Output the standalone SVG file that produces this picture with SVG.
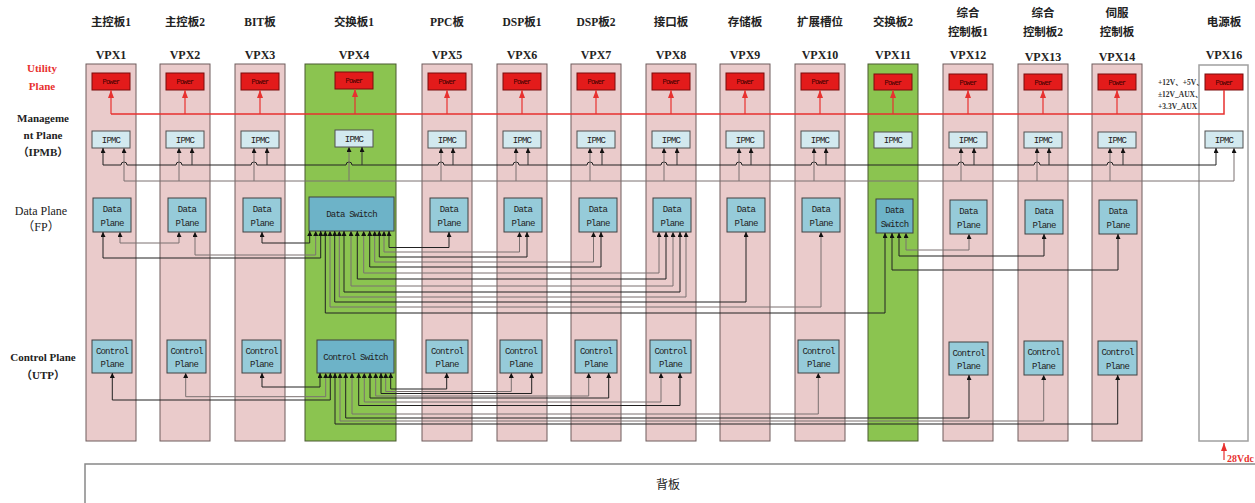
<svg xmlns="http://www.w3.org/2000/svg" width="1255" height="503" viewBox="0 0 1255 503">
<defs>
<marker id="ak" viewBox="0 0 5 5" refX="5" refY="2.5" markerWidth="5" markerHeight="5" markerUnits="userSpaceOnUse" orient="auto-start-reverse"><path d="M0,0L5,2.5L0,5z" fill="#111"/></marker>
<marker id="ar" viewBox="0 0 8 6" refX="8" refY="3" markerWidth="8" markerHeight="6" markerUnits="userSpaceOnUse" orient="auto-start-reverse"><path d="M0,0L8,3L0,6z" fill="#e8312f"/></marker>
</defs>
<style>
.slot{fill:#eacbcb;stroke:#6e5c5c;stroke-width:1}
.sw{fill:#8bc450;stroke:#4a5a30;stroke-width:1}
.ps{fill:#fff;stroke:#a0a0a0;stroke-width:1.5}
.pwr{fill:#e31b1b;stroke:#7a0c0c;stroke-width:1}
.ipmc{fill:#d2e9ef;stroke:#505050;stroke-width:1}
.dp{fill:#96cbd9;stroke:#404040;stroke-width:1}
.dsw{fill:#6db3c8;stroke:#404040;stroke-width:1}
.hd{font-family:"Liberation Serif","Noto Sans CJK SC",serif;font-weight:bold;font-size:11.5px;text-anchor:middle;fill:#222}
.vpx{font-family:"Liberation Serif",serif;font-weight:bold;font-size:12px;text-anchor:middle;fill:#222}
.bx{font-family:"Liberation Mono",monospace;font-size:9px;letter-spacing:-0.8px;text-anchor:middle;fill:#222}
.pw{font-family:"Liberation Mono",monospace;font-size:7px;letter-spacing:-0.8px;text-anchor:middle;fill:#3a0000}
.lb{font-family:"Liberation Serif","Noto Sans CJK SC",serif;font-weight:bold;font-size:11px;text-anchor:middle;fill:#222}
.lbn{font-family:"Liberation Serif","Noto Sans CJK SC",serif;font-size:12px;text-anchor:middle;fill:#222}
.red{fill:#e8312f}
.c1{fill:none;stroke:#222;stroke-width:1;marker-start:url(#ak);marker-end:url(#ak)}
.c2{fill:none;stroke:#7a7070;stroke-width:1;marker-start:url(#ak);marker-end:url(#ak)}
.up{fill:none;stroke:#333;stroke-width:1;marker-end:url(#ak)}
.upg{fill:none;stroke:#7a7070;stroke-width:1;marker-end:url(#ak)}
.rl{fill:none;stroke:#e8312f;stroke-width:1.5}
.ra{fill:none;stroke:#e8312f;stroke-width:1.2;marker-end:url(#ar)}
</style>

<g id="labels">
<text class="lb red" x="42" y="72">Utility</text>
<text class="lb red" x="42" y="90">Plane</text>
<text class="lb" x="43" y="122">Manageme</text>
<text class="lb" x="43" y="139">nt Plane</text>
<text class="lb" x="43" y="156">（IPMB）</text>
<text class="lbn" x="41" y="215">Data Plane</text>
<text class="lbn" x="41" y="231">（FP）</text>
<text class="lb" x="43" y="361">Control Plane</text>
<text class="lb" x="43" y="379">（UTP）</text>
</g>

<g id="backplane">
<rect x="85" y="464" width="1200" height="60" fill="#fff" stroke="#888" stroke-width="1.5"/>
<text class="lbn" x="668" y="489">背板</text>
</g>

<g id="vpx1">
<text class="hd" x="111" y="26">主控板1</text><text class="vpx" x="111" y="59">VPX1</text>
<rect class="slot" x="86" y="64" width="50" height="377"/>
<rect class="pwr" x="92" y="73" width="38" height="17"/><text class="pw" x="111" y="84">Power</text>
<rect class="ipmc" x="92" y="131" width="38" height="17"/><text class="bx" x="111" y="143">IPMC</text>
<rect class="dp" x="93" y="198" width="38" height="34"/><text class="bx" x="112" y="212">Data</text><text class="bx" x="112" y="226">Plane</text>
<rect class="dp" x="92" y="340" width="40" height="33"/><text class="bx" x="112" y="354">Control</text><text class="bx" x="112" y="367">Plane</text>
</g>
<g id="vpx2">
<text class="hd" x="185" y="26">主控板2</text><text class="vpx" x="185" y="59">VPX2</text>
<rect class="slot" x="160" y="64" width="50" height="377"/>
<rect class="pwr" x="166" y="73" width="38" height="17"/><text class="pw" x="185" y="84">Power</text>
<rect class="ipmc" x="166" y="131" width="38" height="17"/><text class="bx" x="185" y="143">IPMC</text>
<rect class="dp" x="168" y="198" width="38" height="34"/><text class="bx" x="187" y="212">Data</text><text class="bx" x="187" y="226">Plane</text>
<rect class="dp" x="167" y="340" width="39" height="33"/><text class="bx" x="186.5" y="354">Control</text><text class="bx" x="186.5" y="367">Plane</text>
</g>
<g id="vpx3">
<text class="hd" x="260" y="26">BIT板</text><text class="vpx" x="260" y="59">VPX3</text>
<rect class="slot" x="235" y="64" width="50" height="377"/>
<rect class="pwr" x="241" y="73" width="38" height="17"/><text class="pw" x="260" y="84">Power</text>
<rect class="ipmc" x="241" y="131" width="38" height="17"/><text class="bx" x="260" y="143">IPMC</text>
<rect class="dp" x="243" y="198" width="38" height="34"/><text class="bx" x="262" y="212">Data</text><text class="bx" x="262" y="226">Plane</text>
<rect class="dp" x="242" y="340" width="39" height="33"/><text class="bx" x="261.5" y="354">Control</text><text class="bx" x="261.5" y="367">Plane</text>
</g>
<g id="vpx4">
<text class="hd" x="354" y="26">交换板1</text><text class="vpx" x="354" y="59">VPX4</text>
<rect class="sw" x="305" y="64" width="91" height="377"/>
<rect class="pwr" x="335" y="72" width="38" height="17"/><text class="pw" x="354" y="83">Power</text>
<rect class="ipmc" x="335" y="130" width="38" height="17"/><text class="bx" x="354" y="142">IPMC</text>
<rect class="dsw" x="309" y="197" width="85" height="34"/><text class="bx" x="351.5" y="217">Data Switch</text>
<rect class="dsw" x="317" y="340" width="77" height="33"/><text class="bx" x="355.5" y="360">Control Switch</text>
</g>
<g id="vpx5">
<text class="hd" x="447" y="26">PPC板</text><text class="vpx" x="447" y="59">VPX5</text>
<rect class="slot" x="422" y="64" width="50" height="377"/>
<rect class="pwr" x="428" y="73" width="38" height="17"/><text class="pw" x="447" y="84">Power</text>
<rect class="ipmc" x="428" y="131" width="38" height="17"/><text class="bx" x="447" y="143">IPMC</text>
<rect class="dp" x="430" y="198" width="38" height="34"/><text class="bx" x="449" y="212">Data</text><text class="bx" x="449" y="226">Plane</text>
<rect class="dp" x="426" y="340" width="42" height="33"/><text class="bx" x="447" y="354">Control</text><text class="bx" x="447" y="367">Plane</text>
</g>
<g id="vpx6">
<text class="hd" x="522" y="26">DSP板1</text><text class="vpx" x="522" y="59">VPX6</text>
<rect class="slot" x="497" y="64" width="50" height="377"/>
<rect class="pwr" x="503" y="73" width="38" height="17"/><text class="pw" x="522" y="84">Power</text>
<rect class="ipmc" x="503" y="131" width="38" height="17"/><text class="bx" x="522" y="143">IPMC</text>
<rect class="dp" x="504" y="198" width="38" height="34"/><text class="bx" x="523" y="212">Data</text><text class="bx" x="523" y="226">Plane</text>
<rect class="dp" x="500" y="340" width="42" height="33"/><text class="bx" x="521" y="354">Control</text><text class="bx" x="521" y="367">Plane</text>
</g>
<g id="vpx7">
<text class="hd" x="596" y="26">DSP板2</text><text class="vpx" x="596" y="59">VPX7</text>
<rect class="slot" x="571" y="64" width="50" height="377"/>
<rect class="pwr" x="577" y="73" width="38" height="17"/><text class="pw" x="596" y="84">Power</text>
<rect class="ipmc" x="577" y="131" width="38" height="17"/><text class="bx" x="596" y="143">IPMC</text>
<rect class="dp" x="579" y="198" width="38" height="34"/><text class="bx" x="598" y="212">Data</text><text class="bx" x="598" y="226">Plane</text>
<rect class="dp" x="575" y="340" width="42" height="33"/><text class="bx" x="596" y="354">Control</text><text class="bx" x="596" y="367">Plane</text>
</g>
<g id="vpx8">
<text class="hd" x="671" y="26">接口板</text><text class="vpx" x="671" y="59">VPX8</text>
<rect class="slot" x="646" y="64" width="50" height="377"/>
<rect class="pwr" x="652" y="73" width="38" height="17"/><text class="pw" x="671" y="84">Power</text>
<rect class="ipmc" x="652" y="131" width="38" height="17"/><text class="bx" x="671" y="143">IPMC</text>
<rect class="dp" x="653" y="198" width="38" height="34"/><text class="bx" x="672" y="212">Data</text><text class="bx" x="672" y="226">Plane</text>
<rect class="dp" x="650" y="340" width="41" height="33"/><text class="bx" x="670.5" y="354">Control</text><text class="bx" x="670.5" y="367">Plane</text>
</g>
<g id="vpx9">
<text class="hd" x="745" y="26">存储板</text><text class="vpx" x="745" y="59">VPX9</text>
<rect class="slot" x="720" y="64" width="50" height="377"/>
<rect class="pwr" x="726" y="73" width="38" height="17"/><text class="pw" x="745" y="84">Power</text>
<rect class="ipmc" x="726" y="131" width="38" height="17"/><text class="bx" x="745" y="143">IPMC</text>
<rect class="dp" x="727" y="198" width="38" height="34"/><text class="bx" x="746" y="212">Data</text><text class="bx" x="746" y="226">Plane</text>
</g>
<g id="vpx10">
<text class="hd" x="820" y="26">扩展槽位</text><text class="vpx" x="820" y="59">VPX10</text>
<rect class="slot" x="795" y="64" width="50" height="377"/>
<rect class="pwr" x="801" y="73" width="38" height="17"/><text class="pw" x="820" y="84">Power</text>
<rect class="ipmc" x="801" y="131" width="38" height="17"/><text class="bx" x="820" y="143">IPMC</text>
<rect class="dp" x="802" y="198" width="38" height="34"/><text class="bx" x="821" y="212">Data</text><text class="bx" x="821" y="226">Plane</text>
<rect class="dp" x="798" y="340" width="41" height="33"/><text class="bx" x="818.5" y="354">Control</text><text class="bx" x="818.5" y="367">Plane</text>
</g>
<g id="vpx11">
<text class="hd" x="893" y="26">交换板2</text><text class="vpx" x="893" y="59">VPX11</text>
<rect class="sw" x="868" y="64" width="50" height="377"/>
<rect class="pwr" x="874" y="74" width="38" height="16"/><text class="pw" x="893" y="85">Power</text>
<rect class="ipmc" x="874" y="132" width="38" height="16"/><text class="bx" x="893" y="143">IPMC</text>
<rect class="dsw" x="876" y="199" width="37" height="34"/><text class="bx" x="894.5" y="213">Data</text><text class="bx" x="894.5" y="227">Switch</text>
</g>
<g id="vpx12">
<text class="hd" x="968" y="17">综合</text><text class="hd" x="968" y="36">控制板1</text><text class="vpx" x="968" y="59">VPX12</text>
<rect class="slot" x="943" y="64" width="50" height="377"/>
<rect class="pwr" x="949" y="74" width="38" height="16"/><text class="pw" x="968" y="85">Power</text>
<rect class="ipmc" x="949" y="132" width="38" height="16"/><text class="bx" x="968" y="143">IPMC</text>
<rect class="dp" x="950" y="200" width="37" height="34"/><text class="bx" x="968.5" y="214">Data</text><text class="bx" x="968.5" y="228">Plane</text>
<rect class="dp" x="949" y="342" width="39" height="33"/><text class="bx" x="968.5" y="356">Control</text><text class="bx" x="968.5" y="369">Plane</text>
</g>
<g id="vpx13">
<text class="hd" x="1043" y="17">综合</text><text class="hd" x="1043" y="36">控制板2</text><text class="vpx" x="1043" y="61">VPX13</text>
<rect class="slot" x="1018" y="64" width="50" height="377"/>
<rect class="pwr" x="1024" y="74" width="38" height="16"/><text class="pw" x="1043" y="85">Power</text>
<rect class="ipmc" x="1024" y="132" width="38" height="16"/><text class="bx" x="1043" y="143">IPMC</text>
<rect class="dp" x="1025" y="200" width="38" height="34"/><text class="bx" x="1044" y="214">Data</text><text class="bx" x="1044" y="228">Plane</text>
<rect class="dp" x="1024" y="341" width="39" height="34"/><text class="bx" x="1043.5" y="355">Control</text><text class="bx" x="1043.5" y="369">Plane</text>
</g>
<g id="vpx14">
<text class="hd" x="1117" y="17">伺服</text><text class="hd" x="1117" y="36">控制板</text><text class="vpx" x="1117" y="61">VPX14</text>
<rect class="slot" x="1092" y="64" width="50" height="377"/>
<rect class="pwr" x="1098" y="74" width="38" height="16"/><text class="pw" x="1117" y="85">Power</text>
<rect class="ipmc" x="1098" y="132" width="38" height="16"/><text class="bx" x="1117" y="143">IPMC</text>
<rect class="dp" x="1099" y="200" width="38" height="34"/><text class="bx" x="1118" y="214">Data</text><text class="bx" x="1118" y="228">Plane</text>
<rect class="dp" x="1098" y="341" width="39" height="34"/><text class="bx" x="1117.5" y="355">Control</text><text class="bx" x="1117.5" y="369">Plane</text>
</g>
<g id="vpx16">
<text class="hd" x="1224" y="26">电源板</text><text class="vpx" x="1224" y="59">VPX16</text>
<rect class="ps" x="1199" y="65" width="49" height="376"/>
<rect class="pwr" x="1205" y="74" width="38" height="16"/><text class="pw" x="1224" y="85">Power</text>
<rect class="ipmc" x="1205" y="131" width="38" height="17"/><text class="bx" x="1224" y="143">IPMC</text>
<text font-family="Liberation Serif,Noto Sans CJK SC,serif" font-weight="bold" font-size="7.5" fill="#333" x="1158" y="85">+12V、+5V、</text>
<text font-family="Liberation Serif,Noto Sans CJK SC,serif" font-weight="bold" font-size="7.5" fill="#333" x="1158" y="97">±12V_AUX、</text>
<text font-family="Liberation Serif,Noto Sans CJK SC,serif" font-weight="bold" font-size="7.5" fill="#333" x="1158" y="109">+3.3V_AUX</text>
<text font-family="Liberation Serif,serif" font-weight="bold" font-size="11" fill="#e8312f" x="1227" y="462" textLength="27" lengthAdjust="spacingAndGlyphs">28Vdc</text>
</g>

<g id="connectors">
<!-- utility plane -->
<path class="rl" d="M111,114 H1224 V90"/>
<path class="ra" d="M111,114 V90"/><path class="ra" d="M185,114 V90"/><path class="ra" d="M260,114 V90"/>
<path class="ra" d="M355,114 V89"/><path class="ra" d="M447,114 V90"/><path class="ra" d="M522,114 V90"/>
<path class="ra" d="M596,114 V90"/><path class="ra" d="M671,114 V90"/><path class="ra" d="M745,114 V90"/>
<path class="ra" d="M820,114 V90"/><path class="ra" d="M893,114 V90"/><path class="ra" d="M968,114 V90"/>
<path class="ra" d="M1043,114 V90"/><path class="ra" d="M1117,114 V90"/>
<path class="ra" d="M1224,460 V443"/>
<!-- IPMB -->
<path class="c1" d="M103,148 V165 H121 a3,3 0 0 1 6,0 H176 a3,3 0 0 1 6,0 H251 a3,3 0 0 1 6,0 H346 a3,3 0 0 1 6,0 H438 a3,3 0 0 1 6,0 H513 a3,3 0 0 1 6,0 H587 a3,3 0 0 1 6,0 H661 a3,3 0 0 1 6,0 H736 a3,3 0 0 1 6,0 H811 a3,3 0 0 1 6,0 H958 a3,3 0 0 1 6,0 H1034 a3,3 0 0 1 6,0 H1107 a3,3 0 0 1 6,0 H1216 V148"/>
<path class="c2" d="M124,148 V181 H1234 V148"/>
<path class="upg" d="M179,181 V148"/><path class="up" d="M192,165 V148"/>
<path class="upg" d="M254,181 V148"/><path class="up" d="M267,165 V148"/>
<path class="upg" d="M349,181 V147"/><path class="up" d="M362,165 V147"/>
<path class="upg" d="M441,181 V148"/><path class="up" d="M453,165 V148"/>
<path class="upg" d="M516,181 V148"/><path class="up" d="M528,165 V148"/>
<path class="upg" d="M590,181 V148"/><path class="up" d="M602,165 V148"/>
<path class="upg" d="M664,181 V148"/><path class="up" d="M677,165 V148"/>
<path class="upg" d="M739,181 V148"/><path class="up" d="M751,165 V148"/>
<path class="upg" d="M814,181 V148"/><path class="up" d="M826,165 V148"/>
<path class="upg" d="M961,181 V148"/><path class="up" d="M974,165 V148"/>
<path class="upg" d="M1037,181 V148"/><path class="up" d="M1049,165 V148"/>
<path class="upg" d="M1110,181 V148"/><path class="up" d="M1123,165 V148"/>
<!-- data plane -->
<path class="c2" d="M120,232 V243 H179 V232"/>
<path class="c1" d="M103,232 V258 H320.7 V231"/>
<path class="c2" d="M195,232 V255 H315.7 V231"/>
<path class="c1" d="M262,232 V243 H309.7 V231"/>
<path class="c1" d="M449,232 V247.5 H389 V231"/>
<path class="c2" d="M519.5,232 V252 H384 V231"/>
<path class="c1" d="M527,232 V257 H379.3 V231"/>
<path class="c2" d="M593.5,232 V262 H374.7 V231"/>
<path class="c1" d="M601,232 V267 H369.7 V231"/>
<path class="c2" d="M659,232 V273 H363.7 V231"/>
<path class="c1" d="M666,232 V279 H357.3 V231"/>
<path class="c2" d="M673,232 V286 H351 V231"/>
<path class="c1" d="M680,232 V292 H344 V231"/>
<path class="c2" d="M686,232 V297 H339.3 V231"/>
<path class="c1" d="M746,232 V302 H334.7 V231"/>
<path class="c2" d="M821,232 V307 H330 V231"/>
<path class="c1" d="M885,233 V313 H325.3 V231"/>
<path class="c2" d="M969,234 V250 H906 V233"/>
<path class="c1" d="M1044,234 V256 H899 V233"/>
<path class="c1" d="M1118,234 V270 H892 V233"/>
<!-- control plane -->
<path class="c1" d="M262,373 V387 H320 V373"/>
<path class="c2" d="M185.7,373 V396.7 H325.7 V373"/>
<path class="c1" d="M112.3,373 V400 H330.3 V373"/>
<path class="c1" d="M446.7,373 V389 H390.7 V373"/>
<path class="c2" d="M511.3,373 V391.5 H385.7 V373"/>
<path class="c1" d="M531.7,373 V393.5 H381 V373"/>
<path class="c2" d="M588.7,373 V396 H375.7 V373"/>
<path class="c1" d="M608.7,373 V398 H370 V373"/>
<path class="c2" d="M661,373 V402 H364.3 V373"/>
<path class="c1" d="M680,373 V405.5 H358.7 V373"/>
<path class="c2" d="M818.3,373 V414 H352 V373"/>
<path class="c1" d="M969,375 V418 H345.7 V373"/>
<path class="c2" d="M1043.7,375 V421 H340 V373"/>
<path class="c1" d="M1117.7,375 V424 H335 V373"/>
</g>
</svg>
